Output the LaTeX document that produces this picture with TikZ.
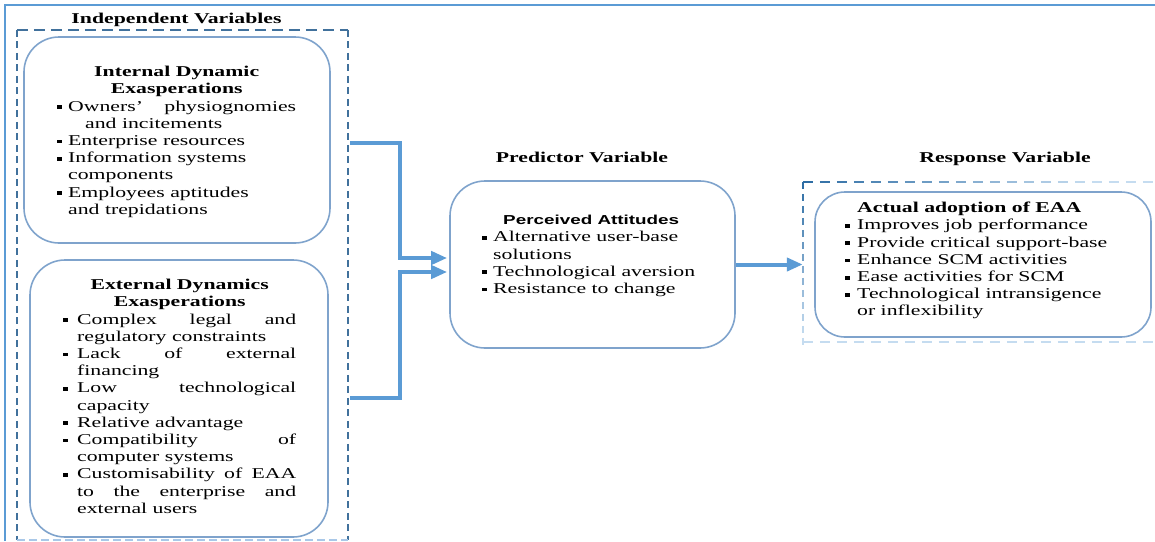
\documentclass[tikz,border=0pt]{standalone}
\usepackage{fontspec}
\setmainfont{Liberation Serif}[FakeStretch=1.45]
\newfontfamily\sansb{Liberation Sans}[FakeStretch=1.45]
\usetikzlibrary{arrows.meta,calc}
\definecolor{frameblue}{HTML}{5B9BD5}
\definecolor{dashblue}{HTML}{41719C}
\definecolor{boxblue}{HTML}{7FA3CC}
\definecolor{arrowblue}{HTML}{5B9BD5}
\definecolor{lightdash}{HTML}{C5DCF0}
\definecolor{darkdash}{HTML}{2E6DA4}
\definecolor{botdash}{HTML}{A9C8E8}
\newcommand{\itm}[2]{\par\noindent\hangindent=#1\hangafter=1\makebox[#1][l]{\raisebox{2pt}{\rule{4.5pt}{3.8pt}}}#2\par}
\tikzset{
  rbox/.style={draw=boxblue, line width=1.6pt, rounded corners=35pt, inner sep=0pt},
  txt/.style={anchor=north west, inner sep=0pt, align=justify, font=\fontsize{15}{17.2}\selectfont},
  ttl/.style={anchor=base, inner sep=0pt, font=\fontsize{15}{17}\selectfont\bfseries},
  arr/.style={draw=arrowblue, line width=4pt, -{Triangle[length=16pt,width=13pt]}},
  vdash/.style={dashblue, line width=1.8pt, dash pattern=on 7pt off 4.5pt},
  hdash/.style={dashblue, line width=1.8pt, dash pattern=on 11pt off 6pt}
}
\begin{document}
\begin{tikzpicture}[x=1pt,y=-1pt]
\useasboundingbox (0,0) rectangle (1155,541);
% outer frame
\draw[frameblue, line width=1.5pt] (5,541) -- (5,5) -- (1155,5);

% group boxes
\node[inner sep=0pt, minimum width=331pt, minimum height=510pt] (indep) at (182.5,285) {};
\draw[hdash] (indep.north west) -- (indep.north east);
\draw[vdash] (indep.north west) -- (indep.south west);
\draw[vdash] (indep.north east) -- (indep.south east);
\draw[botdash, line width=1.8pt, dash pattern=on 8pt off 4pt] (indep.south west) -- (indep.south east);

\node[inner sep=0pt, minimum width=357pt, minimum height=160pt] (resp) at (981.5,262) {};
\foreach \i in {0,...,20} {
  \pgfmathtruncatemacro\p{max(0,100-\i*6)}
  \draw[color=darkdash!\p!lightdash, line width=1.8pt] ($(resp.north west)+(\i*17,0)$) -- ++(10,0);
}
\foreach \i in {0,...,13} {
  \pgfmathtruncatemacro\p{max(0,100-\i*8)}
  \draw[color=darkdash!\p!lightdash, line width=1.8pt] ($(resp.north west)+(0,\i*12)$) -- ++(0,7);
}
\draw[lightdash, line width=1.8pt, dash pattern=on 10pt off 7pt] (resp.south west) -- (resp.south east);

% titles
\node[ttl] (indeptitle) at (176.5,23) {Independent Variables};
\node[ttl] (predtitle) at (582,162) {Predictor Variable};
\node[ttl] (resptitle) at (1005,162) {Response Variable};

% rounded boxes
\node[rbox, minimum width=306pt, minimum height=206pt] (intbox) at (177,140) {};
\node[rbox, minimum width=298pt, minimum height=277pt] (extbox) at (179,398.5) {};
\node[rbox, minimum width=285pt, minimum height=167pt] (percbox) at (592.5,264.5) {};
\node[rbox, rounded corners=30pt, minimum width=336pt, minimum height=145pt] (actbox) at (983,264.5) {};

% texts
\node[txt, text width=239pt] (inttxt) at (57,66) {%
{\centering\bfseries Internal Dynamic\par Exasperations\par}%
\itm{11pt}{Owners'\hfill physiognomies\newline\hspace*{17pt}and incitements}%
\itm{11pt}{Enterprise resources}%
\itm{11pt}{Information systems\newline components}%
\itm{11pt}{Employees aptitudes\newline and trepidations}%
};
\node[txt, text width=233pt] (exttxt) at (63,279) {%
{\centering\bfseries External Dynamics\par Exasperations\par}%
\itm{14pt}{Complex legal and\linebreak regulatory constraints}%
\itm{14pt}{Lack of external\linebreak financing}%
\itm{14pt}{Low technological\linebreak capacity}%
\itm{14pt}{Relative advantage}%
\itm{14pt}{Compatibility of\linebreak computer systems}%
\itm{14pt}{Customisability of EAA\linebreak to the enterprise and\linebreak external users}%
};
\node[txt, text width=218pt] (perctxt) at (482,215) {%
{\centering\sansb\bfseries\fontsize{13}{17.2}\selectfont Perceived Attitudes\par}%
\itm{11pt}{Alternative user-base\newline solutions}%
\itm{11pt}{Technological aversion}%
\itm{11pt}{Resistance to change}%
};
\node[txt, text width=265pt] (acttxt) at (845,202) {%
{\bfseries\hspace*{12pt}Actual adoption of EAA\par}%
\itm{12pt}{Improves job performance}%
\itm{12pt}{Provide critical support-base}%
\itm{12pt}{Enhance SCM activities}%
\itm{12pt}{Ease activities for SCM}%
\itm{12pt}{Technological intransigence\newline or inflexibility}%
};

% connectors
\coordinate (s1) at (350,143);
\coordinate (s2) at (350,398);
\draw[arr] (s1) -- (400,143) |- ($(percbox.west)+(-2,-6.5)$);
\draw[arr] (s2) -- (400,398) |- ($(percbox.west)+(-2,7.5)$);
\draw[arr] (percbox.east) -- (percbox.east -| resp.west);
\end{tikzpicture}
\end{document}
